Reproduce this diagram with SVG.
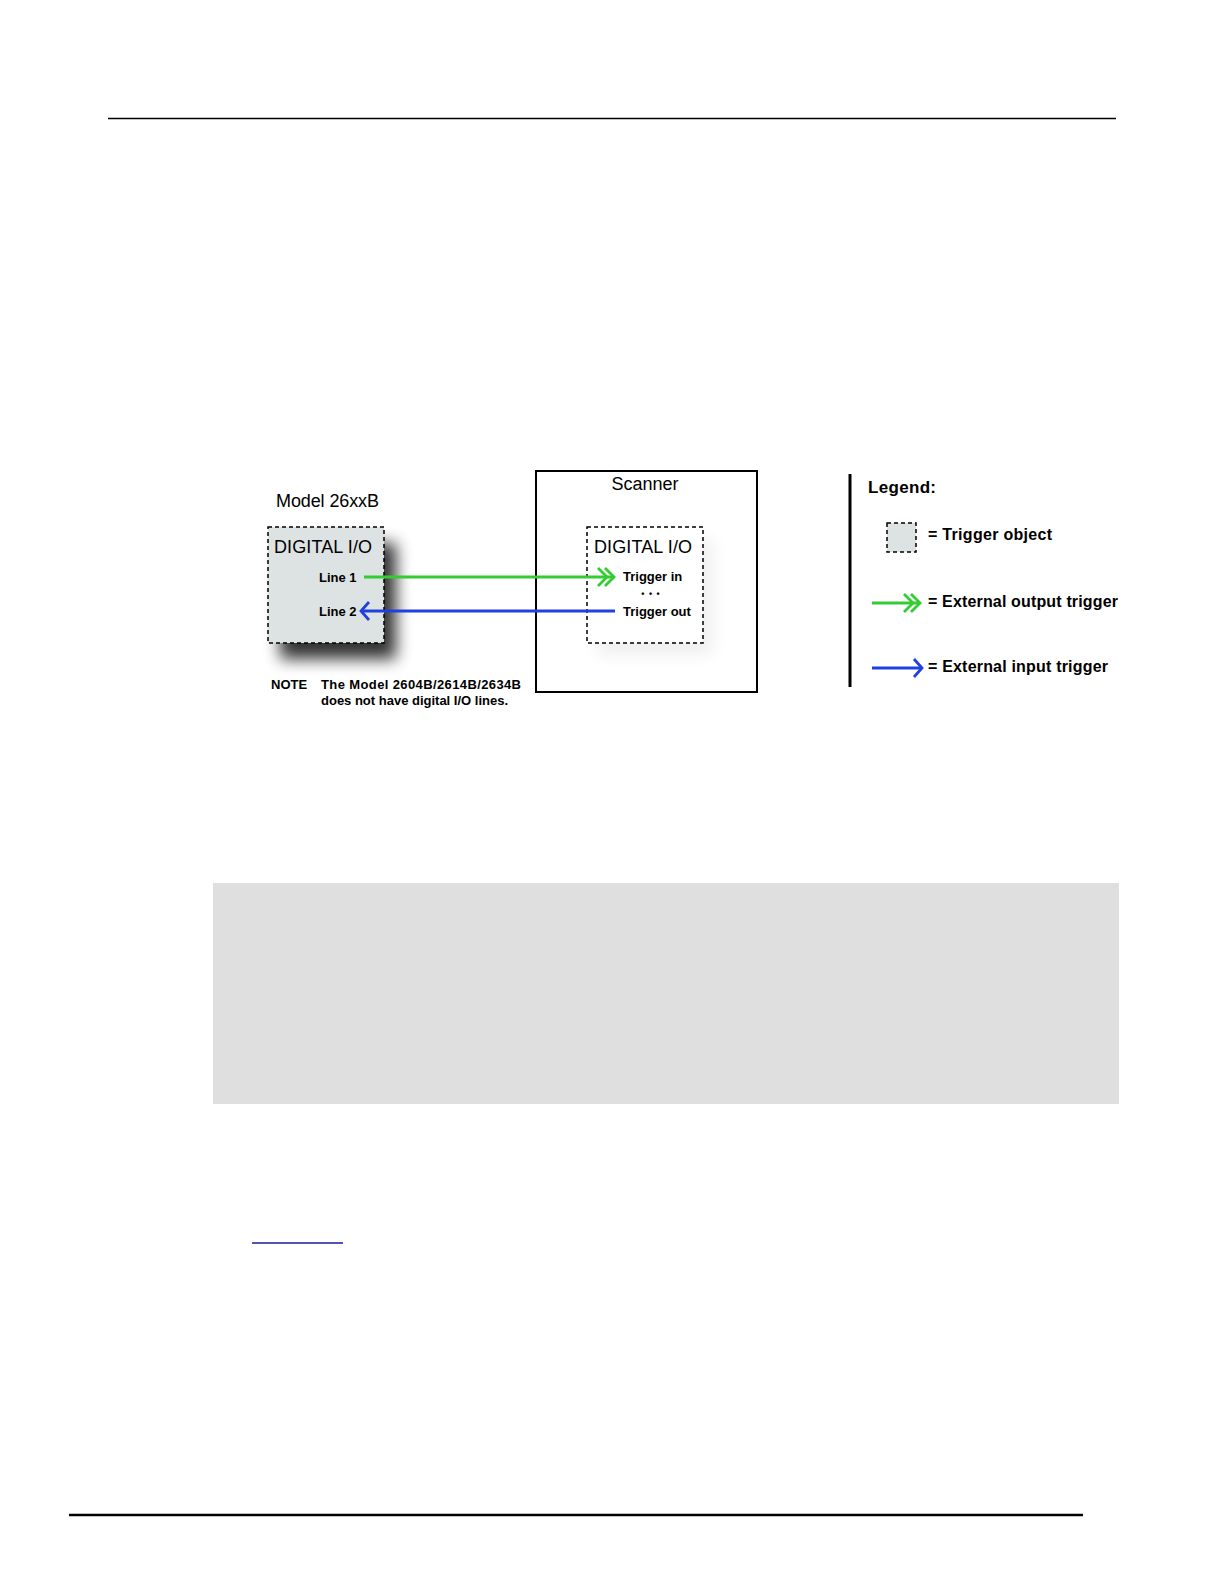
<svg xmlns="http://www.w3.org/2000/svg" width="1224" height="1584" viewBox="0 0 1224 1584">
<style>
text{font-family:"Liberation Sans",Arial,sans-serif;fill:#000}
.t18{font-size:18px}
.b13{font-size:13px;font-weight:bold}
.b16{font-size:16px;font-weight:bold}
.dash{fill:#dde2e2;stroke:#000;stroke-width:1.5;stroke-dasharray:4 3}
.dashw{fill:#fff;stroke:#000;stroke-width:1.5;stroke-dasharray:4 3}
.g{stroke:#33cc33;stroke-width:2.8;fill:none}
.bl{stroke:#2040e0;stroke-width:2.8;fill:none}
</style>
<defs>
<filter id="sh" x="-40%" y="-40%" width="180%" height="180%">
<feGaussianBlur stdDeviation="8"/>
</filter>
<marker id="dbl" viewBox="-20 -12 24 24" refX="0" refY="0" markerWidth="24" markerHeight="24" markerUnits="userSpaceOnUse" orient="auto">
<path d="M-16,-9 L-7,0 L-16,9 M-9,-9 L0,0 L-9,9" fill="none" stroke="#33cc33" stroke-width="2.8"/>
</marker>
<marker id="sgl" viewBox="-12 -12 16 24" refX="0" refY="0" markerWidth="16" markerHeight="24" markerUnits="userSpaceOnUse" orient="auto">
<path d="M-8,-9 L0,0 L-8,9" fill="none" stroke="#2040e0" stroke-width="2.8"/>
</marker>
</defs>
<rect width="1224" height="1584" fill="#fff"/>
<line x1="108" y1="118.5" x2="1116" y2="118.5" stroke="#000" stroke-width="1.5"/>
<line x1="69" y1="1515" x2="1083" y2="1515" stroke="#000" stroke-width="2.5"/>
<rect x="213" y="883" width="906" height="221" fill="#dfdfdf"/>
<line x1="252" y1="1243" x2="343" y2="1243" stroke="#1a1a99" stroke-width="1.5"/>

<g id="model26xxB">
<text class="t18" x="276" y="507" textLength="103">Model 26xxB</text>
<rect x="280" y="543" width="116" height="116" fill="#000" opacity="0.8" filter="url(#sh)"/>
<rect class="dash" x="268" y="527" width="116" height="116"/>
<text class="t18" x="274" y="553" textLength="98">DIGITAL I/O</text>
<text class="b13" x="319" y="582">Line 1</text>
<text class="b13" x="319" y="616">Line 2</text>
</g>
<g id="note">
<text class="b13" x="271" y="689">NOTE</text>
<text class="b13" x="321" y="689" textLength="200">The Model 2604B/2614B/2634B</text>
<text class="b13" x="321" y="705" textLength="187">does not have digital I/O lines.</text>
</g>
<g id="scanner">
<rect x="536" y="471" width="221" height="221" fill="none" stroke="#000" stroke-width="2"/>
<text class="t18" x="645" y="490" text-anchor="middle" textLength="67">Scanner</text>
<rect x="597" y="539" width="116" height="116" fill="#000" opacity="0.06" filter="url(#sh)"/>
<rect class="dashw" x="587" y="527" width="116" height="116"/>
<text class="t18" x="594" y="553" textLength="98">DIGITAL I/O</text>
<text class="b13" x="623" y="581">Trigger in</text>
<text style="font-size:9px;font-weight:bold" x="651" y="597" text-anchor="middle" letter-spacing="1">• • •</text>
<text class="b13" x="623" y="616">Trigger out</text>
</g>
<g id="connectors">
<line class="g" x1="364" y1="577" x2="614" y2="577" marker-end="url(#dbl)"/>
<line class="bl" x1="615" y1="611" x2="361" y2="611" marker-end="url(#sgl)"/>
</g>
<g id="legend">
<line x1="850" y1="474" x2="850" y2="687" stroke="#000" stroke-width="3"/>
<text x="868" y="493" style="font-size:17px;font-weight:bold" textLength="68">Legend:</text>
<rect class="dash" x="887" y="523" width="29" height="29"/>
<text class="b16" x="928" y="540" textLength="124">= Trigger object</text>
<line class="g" x1="872" y1="603" x2="920" y2="603" marker-end="url(#dbl)"/>
<text class="b16" x="928" y="607" textLength="190">= External output trigger</text>
<line class="bl" x1="872" y1="668" x2="922" y2="668" marker-end="url(#sgl)"/>
<text class="b16" x="928" y="672" textLength="180">= External input trigger</text>
</g>
</svg>
